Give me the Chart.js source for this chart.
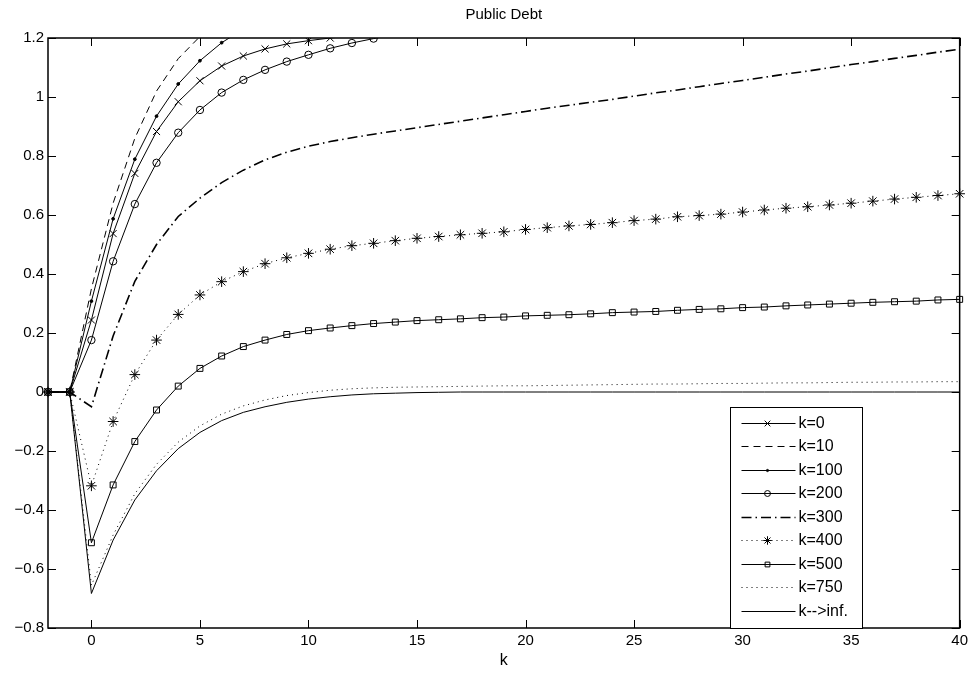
<!DOCTYPE html>
<html>
<head>
<meta charset="utf-8">
<script src="https://cdn.jsdelivr.net/npm/chart.js@4.4.0/dist/chart.umd.min.js"></script>
<style>
  html, body { margin: 0; padding: 0; background: #fff; }
  #wrap { width: 972px; height: 675px; }
</style>
</head>
<body>
<div id="wrap"><canvas id="debtChart" width="972" height="675"></canvas></div>
<script>
// periods on the horizontal axis
const periods = [-2, -1, 0, 1, 2, 3, 4, 5, 6, 7, 8, 9, 10, 11, 12, 13, 14, 15, 16, 17, 18, 19, 20,
  21, 22, 23, 24, 25, 26, 27, 28, 29, 30, 31, 32, 33, 34, 35, 36, 37, 38, 39, 40];

const xTicks = [0, 5, 10, 15, 20, 25, 30, 35, 40];
const yTicks = [-0.8, -0.6, -0.4, -0.2, 0, 0.2, 0.4, 0.6, 0.8, 1, 1.2];

const seriesNames = ['k=0', 'k=10', 'k=100', 'k=200', 'k=300', 'k=400', 'k=500', 'k=750', 'k-->inf.'];

// values (null = leaves the visible range)
const k0 = [0, 0, 0.244, 0.537, 0.741, 0.883, 0.984, 1.055, 1.105, 1.139, 1.163, 1.180, 1.191, 1.200, 1.207,
  null, null, null, null, null, null, null, null, null, null, null, null, null, null,
  null, null, null, null, null, null, null, null, null, null, null, null, null, null];
const k10 = [0, 0, 0.35, 0.64, 0.86, 1.02, 1.13, 1.205, 1.26,
  null, null, null, null, null, null, null, null, null, null, null, null, null, null,
  null, null, null, null, null, null, null, null, null, null, null, null, null, null,
  null, null, null, null, null, null];
const k100 = [0, 0, 0.308, 0.587, 0.789, 0.935, 1.044, 1.123, 1.184, 1.23,
  null, null, null, null, null, null, null, null, null, null, null, null, null,
  null, null, null, null, null, null, null, null, null, null, null, null, null, null,
  null, null, null, null, null, null];
const k200 = [0, 0, 0.176, 0.443, 0.637, 0.777, 0.879, 0.956, 1.015, 1.058, 1.092, 1.120, 1.143, 1.165, 1.183, 1.198, 1.212,
  null, null, null, null, null, null, null, null, null, null, null, null, null,
  null, null, null, null, null, null, null, null, null, null, null, null, null];
const k300 = [0, 0, -0.05, 0.19, 0.375, 0.50, 0.595, 0.657, 0.71, 0.752, 0.787, 0.813, 0.833, 0.849, 0.862,
  0.874, 0.885, 0.896, 0.907, 0.918, 0.929, 0.940, 0.951, 0.962, 0.972, 0.982, 0.992, 1.003, 1.014,
  1.024, 1.035, 1.046, 1.056, 1.067, 1.078, 1.088, 1.099, 1.110, 1.120, 1.131, 1.141, 1.152, 1.162];
const k400 = [0, 0, -0.318, -0.10, 0.059, 0.176, 0.263, 0.329, 0.374, 0.408, 0.435, 0.455, 0.470, 0.484, 0.496,
  0.504, 0.513, 0.521, 0.527, 0.533, 0.538, 0.543, 0.551, 0.557, 0.563, 0.568, 0.574, 0.581, 0.586,
  0.594, 0.598, 0.603, 0.610, 0.617, 0.623, 0.628, 0.634, 0.640, 0.647, 0.654, 0.660, 0.666, 0.672];
const k500 = [0, 0, -0.511, -0.315, -0.168, -0.061, 0.020, 0.080, 0.122, 0.154, 0.176, 0.195, 0.208, 0.217, 0.225,
  0.232, 0.237, 0.242, 0.245, 0.248, 0.252, 0.254, 0.258, 0.260, 0.262, 0.265, 0.269, 0.271, 0.273,
  0.277, 0.280, 0.282, 0.286, 0.288, 0.292, 0.295, 0.298, 0.301, 0.304, 0.306, 0.308, 0.312, 0.314];
const k750 = [0, 0, -0.655, -0.485, -0.345, -0.245, -0.17, -0.115, -0.075, -0.047, -0.027, -0.012, -0.002, 0.006, 0.011,
  0.014, 0.016, 0.017, 0.018, 0.019, 0.020, 0.021, 0.021, 0.022, 0.023, 0.024, 0.025, 0.026, 0.027,
  0.027, 0.028, 0.029, 0.029, 0.030, 0.031, 0.031, 0.032, 0.033, 0.033, 0.034, 0.034, 0.035, 0.035];
const kInf = [0, 0, -0.683, -0.502, -0.366, -0.267, -0.192, -0.137, -0.097, -0.069, -0.05, -0.035, -0.024, -0.016, -0.01,
  -0.006, -0.004, -0.002, -0.001, 0, 0, 0, 0, 0, 0, 0, 0, 0, 0,
  0, 0, 0, 0, 0, 0, 0, 0, 0, 0, 0, 0, 0, 0];

const FONT = "'Liberation Sans', Arial, sans-serif";

const toPoints = (vals) => periods.map((p, i) => ({x: p, y: vals[i]}));

// hide markers that sit above the top of the box
const markerSize = (r) => (ctx) => (ctx.raw && ctx.raw.y > 1.2) ? 0 : r;

const makeSet = (label, vals, opts) => Object.assign({
  label: label,
  data: toPoints(vals),
  borderColor: '#000',
  backgroundColor: '#000',
  borderWidth: 1,
  borderDash: [],
  pointStyle: false,
  pointRadius: 0,
  pointBorderColor: '#000',
  pointBackgroundColor: 'rgba(0,0,0,0)',
  pointBorderWidth: 1,
  tension: 0,
  spanGaps: false,
  clip: {left: 8, right: 8, top: 0, bottom: 8}
}, opts);

const datasets = [
  makeSet(seriesNames[0], k0, {pointStyle: 'crossRot', pointRadius: markerSize(5)}),
  makeSet(seriesNames[1], k10, {borderDash: [7, 5]}),
  makeSet(seriesNames[2], k100, {pointStyle: 'circle', pointRadius: markerSize(1.4), pointBackgroundColor: '#000'}),
  makeSet(seriesNames[3], k200, {pointStyle: 'circle', pointRadius: markerSize(3.7)}),
  makeSet(seriesNames[4], k300, {borderDash: [10, 4, 1.5, 4], borderWidth: 1.6}),
  makeSet(seriesNames[5], k400, {borderDash: [1, 4], pointStyle: 'star', pointRadius: markerSize(5.3)}),
  makeSet(seriesNames[6], k500, {pointStyle: 'rect', pointRadius: markerSize(4.2)}),
  makeSet(seriesNames[7], k750, {borderDash: [1, 4]}),
  makeSet(seriesNames[8], kInf, {})
];

// box round the plot and inward tick marks, matlab style
const frame = {
  id: 'frame',
  afterDatasetsDraw(chart) {
    const {ctx, chartArea: a, scales} = chart;
    const len = 8;
    ctx.save();
    ctx.strokeStyle = '#000';
    ctx.lineWidth = 1;
    ctx.setLineDash([]);
    ctx.beginPath();
    scales.x.ticks.forEach(t => {
      const px = Math.round(scales.x.getPixelForValue(t.value)) + 0.5;
      ctx.moveTo(px, a.bottom); ctx.lineTo(px, a.bottom - len);
      ctx.moveTo(px, a.top); ctx.lineTo(px, a.top + len);
    });
    scales.y.ticks.forEach(t => {
      const py = Math.round(scales.y.getPixelForValue(t.value)) + 0.5;
      ctx.moveTo(a.left, py); ctx.lineTo(a.left + len, py);
      ctx.moveTo(a.right, py); ctx.lineTo(a.right - len, py);
    });
    ctx.stroke();
    ctx.lineWidth = 1.5;
    ctx.strokeRect(a.left, a.top, a.right - a.left, a.bottom - a.top);
    ctx.restore();
  }
};

// legend box in the lower right corner of the plot
const boxLegend = {
  id: 'boxLegend',
  afterDraw(chart) {
    const {ctx, chartArea: a} = chart;
    const sets = chart.data.datasets;
    const rowH = 23.5;
    const w = 132, h = 15 + (sets.length - 1) * rowH + 18;
    const x0 = Math.round(a.right - 230) + 0.5;
    const y0 = Math.round(a.bottom - h) + 0.5;
    ctx.save();
    ctx.fillStyle = '#fff';
    ctx.fillRect(x0, y0, w, h);
    ctx.strokeStyle = '#000';
    ctx.lineWidth = 1;
    ctx.strokeRect(x0, y0, w, h);
    sets.forEach((ds, i) => {
      const y = Math.round(y0 + 15 + i * rowH) + 0.5;
      ctx.save();
      ctx.strokeStyle = '#000';
      ctx.lineWidth = ds.borderWidth;
      ctx.setLineDash(ds.borderDash || []);
      ctx.beginPath();
      ctx.moveTo(x0 + 11, y);
      ctx.lineTo(x0 + 65, y);
      ctx.stroke();
      ctx.setLineDash([]);
      if (ds.pointStyle) {
        const r = typeof ds.pointRadius === 'function' ? ds.pointRadius({raw: {y: 0}}) : ds.pointRadius;
        ctx.fillStyle = ds.pointBackgroundColor;
        ctx.lineWidth = 1;
        Chart.helpers.drawPoint(ctx, {pointStyle: ds.pointStyle, radius: r * 0.8, rotation: 0, borderWidth: 1}, x0 + 37, y);
      }
      ctx.restore();
      ctx.fillStyle = '#000';
      ctx.font = '16px ' + FONT;
      ctx.textAlign = 'left';
      ctx.textBaseline = 'middle';
      ctx.fillText(ds.label, x0 + 68, y);
    });
    ctx.restore();
  }
};

Chart.defaults.color = '#000';
Chart.defaults.font.family = FONT;

const ctx = document.getElementById('debtChart');
const debtChart = new Chart(ctx, {
  type: 'line',
  data: {datasets: datasets},
  options: {
    responsive: false,
    animation: false,
    devicePixelRatio: 1,
    layout: {padding: {left: 0, right: 10, top: 0, bottom: 0}},
    plugins: {
      legend: {display: false},
      tooltip: {enabled: false},
      title: {
        display: true,
        text: 'Public Debt',
        fullSize: false,
        font: {size: 15, weight: 'normal', family: FONT},
        padding: {top: 6, bottom: 14}
      }
    },
    scales: {
      x: {
        type: 'linear',
        min: -2,
        max: 40,
        grid: {display: false, drawTicks: false},
        border: {display: false},
        afterBuildTicks: (scale) => { scale.ticks = xTicks.map(v => ({value: v})); },
        afterFit: (scale) => { scale.height = 47; },
        ticks: {padding: 4, font: {size: 15}, maxRotation: 0, callback: (v) => String(v)},
        title: {display: true, text: 'k', font: {size: 16}, padding: {top: 0, bottom: 5}}
      },
      y: {
        type: 'linear',
        min: -0.8,
        max: 1.2,
        grid: {display: false, drawTicks: false},
        border: {display: false},
        afterBuildTicks: (scale) => { scale.ticks = yTicks.map(v => ({value: v})); },
        afterFit: (scale) => { scale.width = 48; },
        ticks: {
          padding: 4,
          font: {size: 15},
          callback: (v) => {
            const r = Math.round(v * 10) / 10;
            return r < 0 ? '\u2212' + String(-r) : String(r);
          }
        }
      }
    }
  },
  plugins: [frame, boxLegend]
});
</script>
</body>
</html>
